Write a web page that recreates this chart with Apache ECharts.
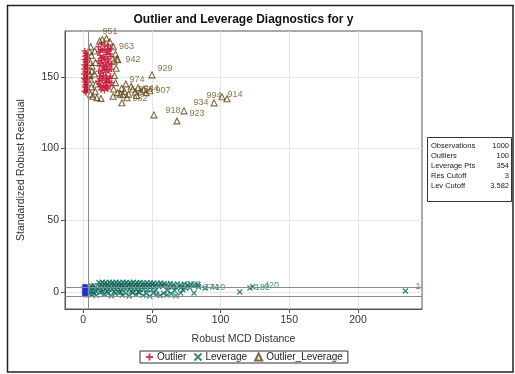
<!DOCTYPE html>
<html>
<head>
<meta charset="utf-8">
<script src="https://cdn.jsdelivr.net/npm/echarts@6/dist/echarts.min.js"></script>
<style>
  html, body { margin: 0; padding: 0; background: #fff; }
  #chart { width: 515px; height: 374px; }
</style>
</head>
<body>
<div id="chart"></div>
<script>
// Axis ticks
const xTicks = [0, 50, 100, 150, 200];
const yTicks = [0, 50, 100, 150];

// Cutoffs used for the reference lines
const resCutoff = 3;
const levCutoff = 3.582;

// Summary table rows
const summaryLabels = ['Observations', 'Outliers', 'Leverage Pts', 'Res Cutoff', 'Lev Cutoff'];
const summaryValues = ['1000', '100', '354', '3', '3.582'];

// Regular observations (robust distance, standardized robust residual)
const normalPts = [
  [0.8, -2.0], [2.2, -2.2], [0.8, 0.0], [2.2, 0.2], [0.8, 2.0], [2.2, 2.1],
  [0.8, 3.9], [2.2, 3.8], [1.5, -1.0], [1.5, 1.0], [1.5, 3.0]
];

// Vertical outliers
const outlierPts = [
  [1.2, 168], [2.6, 165], [0.9, 162], [3.1, 160], [1.8, 157], [2.9, 154], [0.7, 152],
  [3.5, 150], [1.5, 148], [2.4, 146], [1.1, 143], [3.0, 141], [2.0, 139], [1.3, 164.5],
  [2.8, 158], [0.8, 155.5], [3.6, 153], [2.2, 151], [1.0, 146.5], [3.2, 144], [2.5, 162],
  [1.7, 160.5], [3.8, 147], [0.6, 149], [2.1, 142.5], [1.9, 166.5], [3.3, 156], [1.4, 153.5],
  [2.7, 149.5], [1.6, 144.5], [3.4, 163], [0.9, 158.5], [2.3, 140.5], [1.0, 140],
  [11.0, 171], [13.4, 173], [15.8, 172], [18.2, 171.5], [20.1, 170],
  [11.5, 167.5], [14.0, 168.5], [16.5, 167], [19.0, 168], [12.3, 165],
  [14.8, 164], [17.3, 165.5], [20.3, 164], [11.2, 161], [13.7, 161.5],
  [16.2, 160], [18.7, 161], [12.0, 157.5], [14.5, 158], [17.0, 157],
  [19.5, 157.5], [11.3, 154], [13.9, 154.5], [16.4, 153], [18.9, 154],
  [12.2, 150.5], [14.7, 151], [17.2, 150], [20.0, 150.5], [11.1, 147],
  [13.6, 147.5], [16.1, 146], [18.6, 147], [12.4, 143.5], [14.9, 144],
  [17.4, 143], [19.8, 144], [13.0, 141], [15.5, 140.5], [18.0, 141.5],
  [15.2, 169.5], [17.8, 162.5], [12.8, 152.5], [15.3, 155.5], [16.8, 148.5], [20.5, 159],
  [12.6, 169], [17.6, 169], [19.6, 166], [13.1, 163], [15.6, 162.8], [12.9, 159.5],
  [18.1, 159], [15.1, 157], [20.6, 155.5], [17.7, 155], [12.0, 148.8], [19.2, 149],
  [14.2, 149], [16.6, 143], [20.9, 146], [11.7, 145], [14.0, 142.3], [17.3, 146.3]
];

// Leverage points: [distance, residual, observation label]
const leveragePts = [
  [4.8, 3.0, ''], [6.6, 2.6, ''], [8.6, 3.2, ''], [5.2, 0.6, ''], [7.2, 0.2, ''], [9.1, 0.8, ''],
  [4.5, -1.6, ''], [6.3, -2.0, ''], [8.2, -1.4, ''], [9.6, -2.4, ''], [5.8, 4.2, ''], [7.8, 4.5, ''],
  [11.5, 6.6, ''], [14, 6.8, ''], [16.5, 6.5, ''], [19, 6.7, ''], [21.5, 6.6, ''], [24, 6.8, ''],
  [26.5, 6.5, ''], [29, 6.7, ''], [31.5, 6.6, ''], [34, 6.4, ''], [36.5, 6.7, ''], [39, 6.5, ''],
  [41.5, 6.6, ''], [44, 6.3, ''], [46.5, 6.5, ''], [49, 6.2, ''], [51.5, 6.3, ''], [54, 6.0, ''],
  [56.5, 6.2, ''], [59, 5.8, ''],
  [12, 4.2, ''], [14.5, 4.0, ''], [17, 4.3, ''], [19.5, 4.1, ''], [22, 4.4, ''], [24.5, 4.0, ''],
  [27, 4.2, ''], [29.5, 4.3, ''], [32, 4.0, ''], [34.5, 4.2, ''], [37, 4.1, ''], [39.5, 4.3, ''],
  [42, 3.9, ''], [44.5, 4.1, ''], [47, 4.0, ''], [49.5, 3.8, ''], [52, 4.1, ''], [55, 3.7, ''], [58, 4.0, ''],
  [11.2, 2.0, ''], [13.8, 1.8, ''], [16.3, 2.2, ''], [18.8, 1.9, ''], [21.3, 2.1, ''], [23.8, 1.7, ''],
  [26.3, 2.0, ''], [28.8, 2.2, ''], [31.3, 1.8, ''], [33.8, 2.0, ''], [36.3, 1.6, ''], [38.8, 2.1, ''],
  [41.5, 1.7, ''], [44.2, 1.9, ''], [47, 1.5, ''], [50, 1.8, ''], [53, 1.4, ''],
  [12.8, 5.4, ''], [15.3, 5.5, ''], [17.8, 5.3, ''], [20.3, 5.6, ''], [22.8, 5.4, ''], [25.3, 5.5, ''],
  [27.8, 5.3, ''], [30.3, 5.6, ''], [32.8, 5.2, ''], [35.3, 5.5, ''], [37.8, 5.3, ''], [40.3, 5.4, ''],
  [42.8, 5.1, ''], [45.3, 5.3, ''], [47.8, 5.0, ''], [50.3, 5.2, ''], [52.8, 4.9, ''], [57.3, 4.8, ''],
  [12.5, -0.5, ''], [15.2, -1.8, ''], [18, -0.9, ''], [20.5, -2.6, ''], [23.5, -1.2, ''], [26, -0.3, ''],
  [28.5, -2.2, ''], [31, -1.0, ''], [33.5, -2.8, ''], [36, -0.6, ''], [38.5, -1.9, ''], [41, -0.4, ''],
  [43.5, -2.4, ''], [46, -1.1, ''], [48.5, -2.9, ''], [51, -0.7, ''], [53.5, -1.8, ''], [56, -2.5, ''],
  [58.5, -0.9, ''], [61, -2.1, ''], [64, -1.3, ''], [67.5, -2.6, ''], [71, -0.8, ''], [14, 0.2, ''],
  [17.5, 0.5, ''], [22.5, 0.1, ''], [27.5, -0.2, ''], [35, 0.3, ''], [40, 0.0, ''],
  [61, 5.4, ''], [63.5, 5.9, ''], [66, 5.2, ''], [68.5, 5.6, ''], [71, 5.0, '988'], [73.5, 5.5, ''],
  [76, 4.8, ''], [78.5, 5.3, ''], [81, 4.6, ''], [83.5, 5.0, ''], [62, 3.2, ''], [65, 3.6, ''],
  [68, 2.9, ''], [71.5, 3.3, ''], [74.5, 2.6, ''], [77.5, 3.1, ''], [61.5, 1.2, ''], [66.5, 0.9, ''],
  [72.5, 1.5, ''], [84, 3.4, '374'],
  [80.7, -0.7, ''], [88.7, 2.8, '419'], [114, 0.0, ''], [121.4, 2.8, '182'], [123.5, 3.6, '420'],
  [234.5, 0.7, '1']
];

// Points that are both outliers and leverage points: [distance, residual, observation label]
const outLevPts = [
  [5.5, 171, ''], [6.0, 165, ''], [5.2, 160, ''], [6.3, 154, ''], [5.6, 148, ''], [6.1, 143, ''],
  [5.3, 138, ''], [7.0, 136.5, ''], [10, 135.5, ''], [13, 135, ''], [4.8, 167.5, ''], [6.5, 157.5, ''],
  [4.9, 151, ''],
  [14, 176, ''], [17, 177, ''], [12, 175, ''], [19.5, 174.5, '951'],
  [22, 171, '963'], [23.5, 166, ''], [22.5, 161, ''], [24, 156, ''], [22.8, 151, ''], [23.6, 146, ''],
  [22.2, 141.5, ''], [25, 139, ''], [27, 138, ''], [24.5, 162.5, ''], [21.8, 136.5, ''],
  [8.5, 168, ''], [9.0, 160, ''], [8.2, 152, ''], [9.3, 145, ''], [8.8, 140, ''],
  [25.3, 161.9, '942'],
  [28, 142, ''], [30, 140, ''], [33, 138, ''], [36, 141.5, '953'], [38, 139.5, ''], [40, 142.5, '944'],
  [42, 140, ''], [44, 141, ''], [46, 139, ''], [35, 143.5, ''], [39, 137, ''], [29, 137.5, ''],
  [31.1, 145.1, '974'], [48.6, 140.3, '907'], [31.9, 135.4, '982'],
  [50.1, 151.4, '929'], [28.2, 132, ''], [51.5, 123.5, ''],
  [68.3, 119.3, '918'], [73.4, 126.3, '923'],
  [95.3, 131.9, '934'], [104.7, 134.7, '994'], [101.0, 136.1, '914']
];

// Label placement for the annotated observations
const labelPlacement = {
  '929': { position: 'right', offset: [0, -6] },
  '918': { position: 'top', offset: [-4, 0] },
  '923': { position: 'right', offset: [0, 3] },
  '934': { position: 'left', offset: [0, 0] },
  '994': { position: 'left', offset: [0, -3] },
  '914': { position: 'right', offset: [0, -2] },
  '974': { position: 'right', offset: [-2, -4] },
  '907': { position: 'right', offset: [0, 0] },
  '982': { position: 'right', offset: [0, 1] },
  '942': { position: 'right', offset: [2, 0] },
  '951': { position: 'top', offset: [0, 0] },
  '963': { position: 'right', offset: [0, 0] },
  '953': { position: 'right', offset: [0, 0] },
  '944': { position: 'right', offset: [0, 1] },
  '1':   { position: 'right', offset: [5, -4] },
  '420': { position: 'right', offset: [6, -1] }
};

const FONT = '"Liberation Sans", Arial, sans-serif';
const RED = '#c4102e';
const TEAL = '#08695d';
const BROWN = '#5e4310';
const BLUE = '#1f2fd0';

function labelledData(points, color) {
  return points.map(function (p) {
    const item = { value: [p[0], p[1]] };
    if (p[2]) {
      const place = labelPlacement[p[2]] || { position: 'right', offset: [0, 0] };
      item.label = {
        show: true,
        formatter: p[2],
        position: place.position,
        offset: place.offset,
        distance: 2,
        fontSize: 9,
        fontFamily: FONT,
        color: color
      };
    }
    return item;
  });
}

const chart = echarts.init(document.getElementById('chart'), null, { renderer: 'canvas' });

const summaryGraphics = [];
summaryLabels.forEach(function (t, i) {
  summaryGraphics.push({
    type: 'text', x: 431, y: 146 + i * 10,
    style: { text: t, font: '7.5px ' + FONT, fill: '#222', textAlign: 'left', textVerticalAlign: 'middle', align: 'left', verticalAlign: 'middle' }
  });
  summaryGraphics.push({
    type: 'text', x: 509, y: 146 + i * 10,
    style: { text: summaryValues[i], font: '7.5px ' + FONT, fill: '#222', textAlign: 'right', textVerticalAlign: 'middle', align: 'right', verticalAlign: 'middle' }
  });
});

const option = {
  backgroundColor: '#fff',
  animation: false,
  grid: {
    left: 65, top: 31, width: 357, height: 278,
    show: true, borderColor: '#555', borderWidth: 1, backgroundColor: '#fff'
  },
  xAxis: {
    type: 'value', min: -13.2, max: 246.6,
    name: 'Robust MCD Distance', nameLocation: 'middle', nameGap: 25,
    nameTextStyle: { fontFamily: FONT, fontSize: 10.5, color: '#333' },
    axisLine: { show: true, onZero: false, lineStyle: { color: '#555' } },
    axisTick: { show: true, length: 4, lineStyle: { color: '#555' }, customValues: xTicks },
    axisLabel: { fontFamily: FONT, fontSize: 10.5, color: '#333', margin: 6, customValues: xTicks },
    splitLine: { show: true, lineStyle: { color: '#e6e6e6' } }
  },
  yAxis: {
    type: 'value', min: -11.9, max: 182,
    name: 'Standardized Robust Residual', nameLocation: 'middle', nameGap: 38,
    nameTextStyle: { fontFamily: FONT, fontSize: 10.5, color: '#333' },
    axisLine: { show: true, onZero: false, lineStyle: { color: '#555' } },
    axisTick: { show: true, length: 4, lineStyle: { color: '#555' }, customValues: yTicks },
    axisLabel: { fontFamily: FONT, fontSize: 10.5, color: '#333', margin: 6, customValues: yTicks },
    splitLine: { show: true, lineStyle: { color: '#e6e6e6' } }
  },
  legend: {
    data: ['Outlier', 'Leverage', 'Outlier_Leverage'],
    left: 140, top: 351,
    itemWidth: 7, itemHeight: 7, itemGap: 7,
    padding: [1, 5, 1, 5],
    borderColor: '#333', borderWidth: 1,
    textStyle: { fontFamily: FONT, fontSize: 10, color: '#222', padding: [0, 0, 0, -1] }
  },
  graphic: [
    {
      type: 'rect', shape: { x: 7.5, y: 5.5, width: 505.5, height: 366.5 },
      style: { fill: 'none', stroke: '#222', lineWidth: 1.5 }, silent: true, z: -1
    },
    {
      type: 'text', x: 243.5, y: 20,
      style: { text: 'Outlier and Leverage Diagnostics for y', font: 'bold 12px ' + FONT, fill: '#111', textAlign: 'center', textVerticalAlign: 'middle', align: 'center', verticalAlign: 'middle' }
    },
    {
      type: 'rect', shape: { x: 427.5, y: 137.5, width: 84, height: 64 },
      style: { fill: '#fff', stroke: '#333', lineWidth: 1 }
    }
  ].concat(summaryGraphics),
  series: [
    {
      name: 'Normal', type: 'scatter', symbol: 'circle', symbolSize: 5,
      itemStyle: { color: BLUE },
      data: normalPts,
      markLine: {
        silent: true, symbol: 'none', animation: false,
        label: { show: false },
        lineStyle: { color: '#8a8a8a', width: 1, type: 'solid' },
        data: [{ xAxis: levCutoff }, { yAxis: resCutoff }, { yAxis: -resCutoff }]
      }
    },
    {
      name: 'Leverage', type: 'scatter',
      symbol: 'path://M0,0L10,10M10,0L0,10', symbolSize: 5,
      itemStyle: { color: 'transparent', borderColor: TEAL, borderWidth: 1.3 },
      data: labelledData(leveragePts, '#137a6e')
    },
    {
      name: 'Outlier_Leverage', type: 'scatter',
      symbol: 'triangle', symbolSize: 6,
      itemStyle: { color: 'transparent', borderColor: BROWN, borderWidth: 1.1 },
      data: labelledData(outLevPts, '#6b5220')
    },
    {
      name: 'Outlier', type: 'scatter',
      symbol: 'path://M5,0L5,10M0,5L10,5', symbolSize: 6,
      itemStyle: { color: 'transparent', borderColor: RED, borderWidth: 1.4 },
      data: outlierPts
    }
  ]
};

chart.setOption(option);
</script>
</body>
</html>
